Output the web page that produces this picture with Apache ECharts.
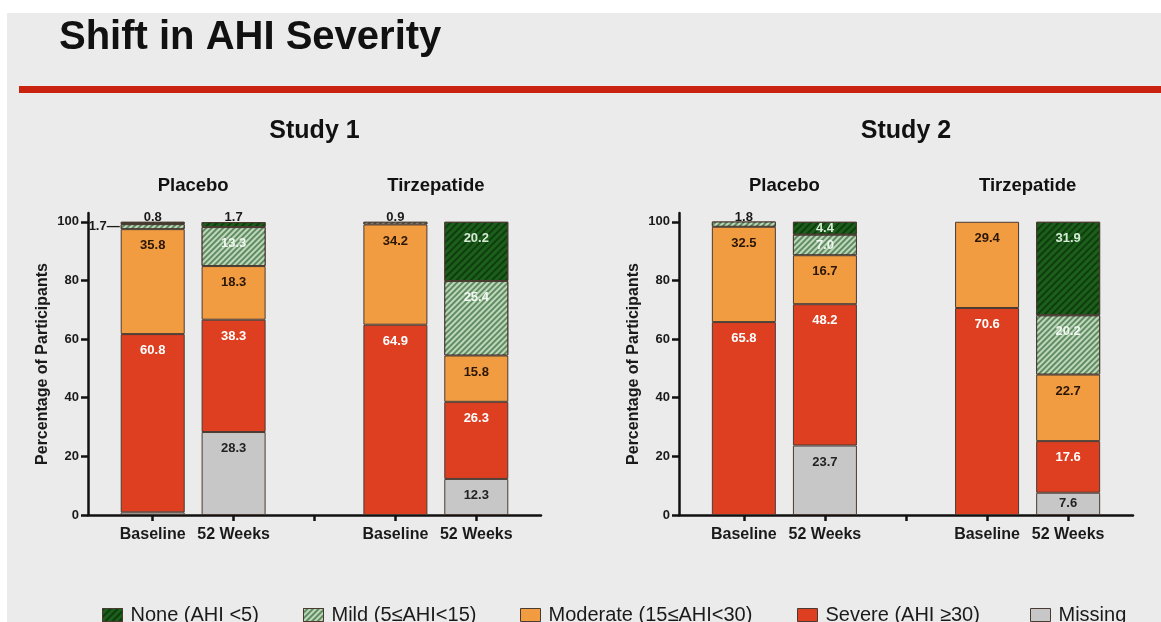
<!DOCTYPE html>
<html>
<head>
<meta charset="utf-8">
<script src="https://cdn.jsdelivr.net/npm/echarts@6/dist/echarts.min.js"></script>
<style>
html,body{margin:0;padding:0;background:#ffffff;}
#chart{width:1161px;height:622px;}
</style>
</head>
<body>
<div id="chart"></div>
<script>
// ---------------- DATA ----------------
const barCategories = ['Baseline', '52 Weeks', 'Baseline', '52 Weeks'];
const groupNames = ['Placebo', 'Tirzepatide'];
const studyNames = ['Study 1', 'Study 2'];
const severityNames = ['None (AHI <5)', 'Mild (5≤AHI<15)', 'Moderate (15≤AHI<30)', 'Severe (AHI ≥30)', 'Missing'];
const yTicks = [0, 20, 40, 60, 80, 100];
const yAxisTitle = 'Percentage of Participants';
const mainTitle = 'Shift in AHI Severity';

// order of bars: Placebo Baseline, Placebo 52 Weeks, Tirzepatide Baseline, Tirzepatide 52 Weeks
const study1None     = [0.8, 1.7, null, 20.2];
const study1Mild     = [1.7, 13.3, 0.9, 25.4];
const study1Moderate = [35.8, 18.3, 34.2, 15.8];
const study1Severe   = [60.8, 38.3, 64.9, 26.3];
const study1Missing  = [0.9, 28.3, null, 12.3];

const study2None     = [null, 4.4, null, 31.9];
const study2Mild     = [1.8, 7.0, null, 20.2];
const study2Moderate = [32.5, 16.7, 29.4, 22.7];
const study2Severe   = [65.8, 48.2, 70.6, 17.6];
const study2Missing  = [null, 23.7, null, 7.6];

// ---------------- LAYOUT / STYLE ----------------
const SLOT_COUNT = 29;
const BAR_SLOTS = [4, 9, 19, 24];
const TICK_SLOTS = [4, 9, 14, 19, 24];
const FONT = '"Liberation Sans", Arial, Helvetica, sans-serif';
const GRIDS = [
  {left: 88, top: 213, width: 453, height: 302},
  {left: 679, top: 213, width: 454, height: 302}
];

const styles = {
  'None (AHI <5)': {color: '#1b5f1b', decal: {symbol: 'rect', symbolSize: 1, dashArrayX: [1, 0], dashArrayY: [2, 3], rotation: -Math.PI / 4, color: 'rgba(8,45,8,0.7)'}, label: '#d6ecd6'},
  'Mild (5≤AHI<15)': {color: '#5f8d5f', decal: {symbol: 'rect', symbolSize: 1, dashArrayX: [1, 0], dashArrayY: [2, 2], rotation: -Math.PI / 4, color: 'rgba(215,232,215,0.8)'}, label: '#f0f7f0'},
  'Moderate (15≤AHI<30)': {color: '#f19c41', label: '#2a1606'},
  'Severe (AHI ≥30)': {color: '#de3f21', label: '#ffffff'},
  'Missing': {color: '#c7c7c7', label: '#222222'}
};

const categories = Array.from({length: SLOT_COUNT}, (_, i) => {
  const k = BAR_SLOTS.indexOf(i);
  return k >= 0 ? barCategories[k] : '';
});

const studies = [
  [study1None, study1Mild, study1Moderate, study1Severe, study1Missing],
  [study2None, study2Mild, study2Moderate, study2Severe, study2Missing]
];

const fmt = (p) => p.value.toFixed(1);
const series = [];
studies.forEach((arrs, si) => {
  // stack bottom -> top: Missing, Severe, Moderate, Mild, None
  for (let lvl = arrs.length - 1; lvl >= 0; lvl--) {
    const name = severityNames[lvl];
    const st = styles[name];
    const data = new Array(SLOT_COUNT).fill(null);
    arrs[lvl].forEach((v, j) => {
      if (v == null) return;
      let topmost = true;
      for (let h = lvl - 1; h >= 0; h--) if (arrs[h][j] != null) topmost = false;
      let label;
      if (v >= 9) {
        label = {show: true, position: 'insideTop', distance: 10, color: st.label, formatter: fmt};
      } else if (v >= 3) {
        label = {show: true, position: 'inside', color: st.label, formatter: fmt};
      } else if (topmost) {
        label = {show: true, position: 'top', distance: -2, color: '#1a1a1a', formatter: fmt};
      } else if (name === 'Missing') {
        label = {show: false};
      } else {
        label = {show: true, position: 'left', distance: 1, color: '#1a1a1a', formatter: (p) => p.value.toFixed(1) + '\u2014'};
      }
      data[BAR_SLOTS[j]] = {value: v, label: label};
    });
    series.push({
      type: 'bar',
      name: name,
      stack: 'study' + si,
      xAxisIndex: si,
      yAxisIndex: si,
      barWidth: 64,
      data: data,
      itemStyle: {color: st.color, borderColor: '#4a3b32', borderWidth: 1, decal: st.decal},
      label: {fontFamily: FONT, fontWeight: 'bold', fontSize: 13},
      emphasis: {disabled: true},
      animation: false
    });
  }
});

const xAxes = GRIDS.map((g, i) => ({
  gridIndex: i,
  type: 'category',
  boundaryGap: false,
  data: categories,
  axisLine: {lineStyle: {color: '#111', width: 2.5}},
  axisTick: {interval: (idx) => TICK_SLOTS.includes(idx), length: 6, lineStyle: {color: '#111', width: 2.5}},
  axisLabel: {interval: (idx) => BAR_SLOTS.includes(idx), fontFamily: FONT, fontWeight: 'bold', fontSize: 16, color: '#1a1a1a', margin: 12},
  splitLine: {show: false}
}));

const yAxes = GRIDS.map((g, i) => ({
  gridIndex: i,
  type: 'value',
  min: 0,
  max: 103,
  axisLine: {show: true, lineStyle: {color: '#111', width: 2.5}},
  axisTick: {show: true, length: 7, customValues: yTicks, lineStyle: {color: '#111', width: 2.5}},
  axisLabel: {customValues: yTicks, fontFamily: FONT, fontWeight: 'bold', fontSize: 13, color: '#1a1a1a', margin: 9},
  splitLine: {show: false},
  name: yAxisTitle,
  nameLocation: 'middle',
  nameGap: 37,
  nameTextStyle: {fontFamily: FONT, fontWeight: 'bold', fontSize: 16, color: '#1a1a1a'}
}));

// text graphics
const graphics = [
  {type: 'rect', shape: {x: 7, y: 13, width: 1160, height: 615}, style: {fill: '#ebebeb'}, z: -10},
  {type: 'rect', shape: {x: 19, y: 86, width: 1150, height: 7}, style: {fill: '#c9220f'}},
  {type: 'text', x: 59, y: 38, style: {text: mainTitle, font: 'bold 40px ' + FONT, fill: '#111', textVerticalAlign: 'middle'}}
];
const barPx = (g, slot) => g.left + g.width * slot / (SLOT_COUNT - 1);
GRIDS.forEach((g, i) => {
  graphics.push({type: 'text', x: barPx(g, 14), y: 131, style: {text: studyNames[i], font: 'bold 25px ' + FONT, fill: '#111', textAlign: 'center', textVerticalAlign: 'middle'}});
  groupNames.forEach((gn, k) => {
    const cx = (barPx(g, BAR_SLOTS[k * 2]) + barPx(g, BAR_SLOTS[k * 2 + 1])) / 2;
    graphics.push({type: 'text', x: cx, y: 186, style: {text: gn, font: 'bold 18.5px ' + FONT, fill: '#111', textAlign: 'center', textVerticalAlign: 'middle'}});
  });
});

const legendLefts = [97, 298, 515, 792, 1025];
const legends = severityNames.map((n, k) => ({
  data: [n],
  left: legendLefts[k],
  top: 600,
  icon: 'rect',
  itemWidth: 20,
  itemHeight: 13,
  selectedMode: false,
  itemStyle: {borderColor: '#4a3b32', borderWidth: 1},
  textStyle: {fontFamily: '"Liberation Sans Narrow", "Liberation Sans", Arial', fontSize: 20, color: '#1a1a1a', padding: [0, 0, 0, 3]}
}));

const chart = echarts.init(document.getElementById('chart'), null, {renderer: 'canvas'});
chart.setOption({
  backgroundColor: '#ffffff',
  animation: false,
  grid: GRIDS,
  xAxis: xAxes,
  yAxis: yAxes,
  legend: legends,
  graphic: graphics,
  series: series
});
</script>
</body>
</html>
